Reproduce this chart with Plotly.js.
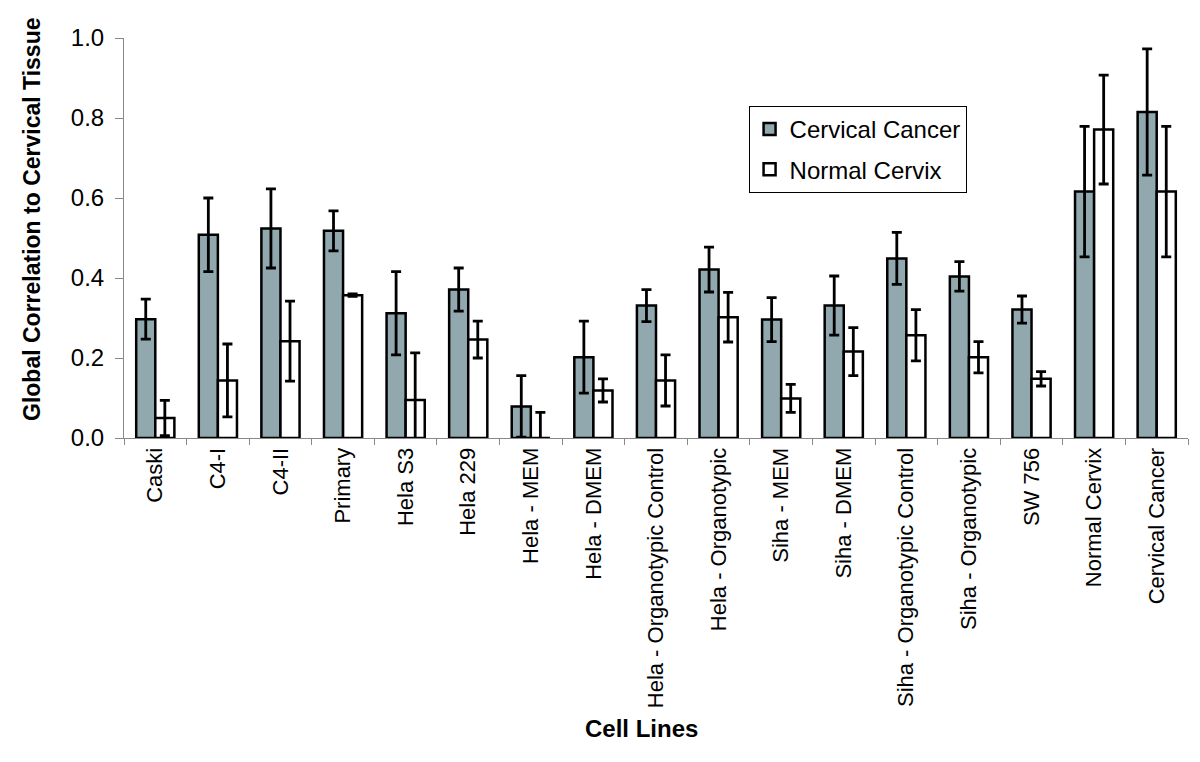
<!DOCTYPE html>
<html>
<head>
<meta charset="utf-8">
<script src="https://cdn.plot.ly/plotly-3.0.1.min.js"></script>
<style>html,body{margin:0;padding:0;background:#fff;}#chart{width:1200px;height:762px;}</style>
</head>
<body>
<div id="chart"></div>
<script>
const categories = ["Caski","C4-I","C4-II","Primary","Hela S3","Hela 229","Hela - MEM","Hela - DMEM","Hela - Organotypic Control","Hela - Organotypic","Siha - MEM","Siha - DMEM","Siha - Organotypic Control","Siha - Organotypic","SW 756","Normal Cervix","Cervical Cancer"];
const cancerValues = [0.297,0.508,0.524,0.518,0.312,0.371,0.079,0.202,0.331,0.421,0.296,0.331,0.449,0.404,0.321,0.616,0.815];
const cancerErrors = [0.050,0.092,0.099,0.050,0.104,0.054,0.077,0.090,0.040,0.056,0.055,0.074,0.065,0.037,0.034,0.163,0.158];
const normalValues = [0.050,0.144,0.242,0.357,0.095,0.246,0.000,0.119,0.144,0.302,0.099,0.216,0.257,0.202,0.148,0.771,0.616];
const normalErrors = [0.044,0.091,0.100,0.003,0.118,0.046,0.064,0.029,0.064,0.062,0.035,0.060,0.064,0.039,0.018,0.136,0.163];
const seriesNames = ["Cervical Cancer","Normal Cervix"];
const yTicks = [0,0.2,0.4,0.6,0.8,1.0];

const errStyle = {type:'data', visible:true, color:'#000', thickness:2.8, width:5};
const traces = [
  {type:'bar', name:seriesNames[0], x:categories, y:cancerValues, legendgroup:'a',
   marker:{color:'#90A8AE', line:{color:'#000', width:2.5}},
   error_y:Object.assign({array:cancerErrors}, errStyle)},
  {type:'bar', name:seriesNames[1], x:categories, y:normalValues, legendgroup:'b',
   marker:{color:'#FFFFFF', line:{color:'#000', width:2.5}},
   error_y:Object.assign({array:normalErrors}, errStyle)}
];
const font = "Arial, 'Liberation Sans', sans-serif";
const layout = {
  width:1200, height:762,
  margin:{l:124, r:12, t:38, b:324},
  paper_bgcolor:'#fff', plot_bgcolor:'#fff',
  barmode:'group', bargap:0.39, bargroupgap:0,
  font:{family:font, color:'#000'},
  showlegend:true,
  legend:{x:0.587, y:0.83, xanchor:'left', yanchor:'top', bordercolor:'#000', borderwidth:1,
          bgcolor:'#fff', font:{size:24, family:font}, traceorder:'grouped', tracegroupgap:6},
  xaxis:{type:'category', showline:true, linecolor:'#888', linewidth:1, ticks:'outside', tickson:'boundaries',
         ticklen:6, tickcolor:'#888', tickangle:-90, tickfont:{size:22, family:font}, showgrid:false, zeroline:false, fixedrange:true},
  yaxis:{range:[0,1], tickvals:yTicks, tickformat:'.1f', showline:true, linecolor:'#888', linewidth:1,
         ticks:'outside', ticklen:8, tickcolor:'#888', tickfont:{size:24, family:font}, ticklabelstandoff:6,
         showgrid:false, zeroline:false},
  annotations:[
    {text:'<b>Global Correlation to Cervical Tissue</b>', xref:'paper', yref:'paper', x:-0.0865, y:0.5475,
     xanchor:'center', yanchor:'middle', textangle:-90, showarrow:false, font:{size:23, family:font}},
    {text:'<b>Cell Lines</b>', xref:'paper', yref:'paper', x:0.486, y:-0.725,
     xanchor:'center', yanchor:'middle', showarrow:false, font:{size:24, family:font}}
  ]
};
Plotly.newPlot('chart', traces, layout, {displayModeBar:false, staticPlot:true});
</script>
</body>
</html>
